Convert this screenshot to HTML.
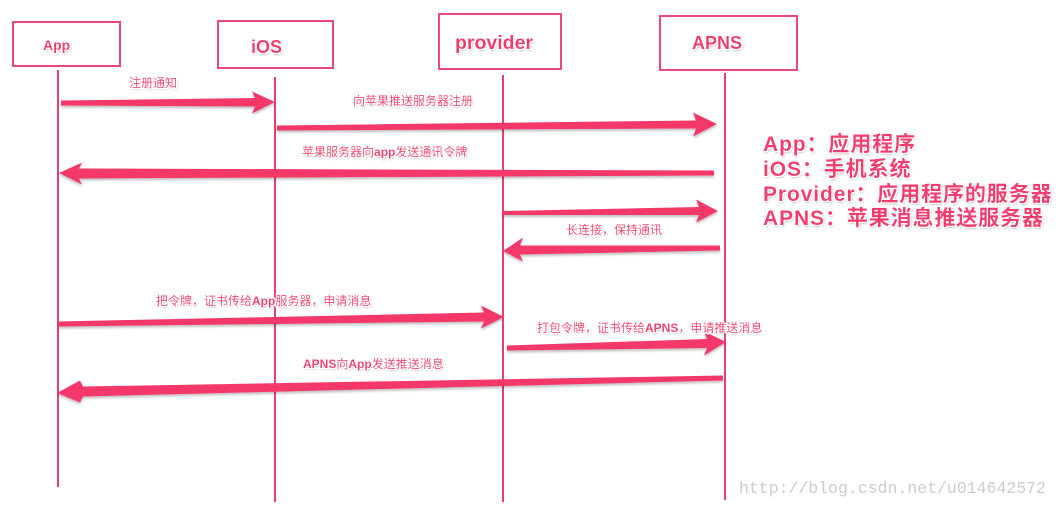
<!DOCTYPE html>
<html>
<head>
<meta charset="utf-8">
<style>
  html,body{margin:0;padding:0;background:#fff;}
  body{width:1060px;height:507px;overflow:hidden;}
  svg{display:block;}
  .lbl{font-family:"Liberation Sans","Noto Sans CJK SC",sans-serif;font-size:12px;fill:#ef3a6c;}
  .b{font-weight:bold;}
  .box{fill:#fff;stroke:#e8487b;stroke-width:2;}
  .life{stroke:#e63f74;stroke-width:2;}
  .arr{fill:#f5386b;}
  .head{font-family:"Liberation Sans",sans-serif;font-weight:bold;fill:#ef3a6c;}
  .leg{font-family:"Liberation Sans","Noto Sans CJK SC",sans-serif;font-weight:bold;font-size:21px;letter-spacing:0.9px;fill:#f23c6e;}
</style>
</head>
<body>
<svg width="1060" height="507" viewBox="0 0 1060 507" xmlns="http://www.w3.org/2000/svg">
  <defs>
    <filter id="ts" x="-10%" y="-40%" width="120%" height="180%">
      <feMorphology in="SourceAlpha" operator="dilate" radius="1" result="d"/>
      <feFlood flood-color="#ffffff"/>
      <feComposite in2="d" operator="in" result="w"/>
      <feGaussianBlur in="SourceAlpha" stdDeviation="1" result="bl"/>
      <feOffset in="bl" dx="1" dy="1.5" result="o"/>
      <feComponentTransfer in="o" result="sh"><feFuncA type="linear" slope="0.35"/></feComponentTransfer>
      <feMerge><feMergeNode in="sh"/><feMergeNode in="w"/><feMergeNode in="SourceGraphic"/></feMerge>
    </filter>
    <filter id="as" x="-5%" y="-50%" width="110%" height="200%">
      <feGaussianBlur in="SourceAlpha" stdDeviation="1.2" result="bl"/>
      <feOffset in="bl" dx="0" dy="2" result="o"/>
      <feComponentTransfer in="o" result="sh"><feFuncA type="linear" slope="0.25"/></feComponentTransfer>
      <feMerge><feMergeNode in="sh"/><feMergeNode in="SourceGraphic"/></feMerge>
    </filter>
  </defs>

  <!-- boxes -->
  <rect class="box" x="13" y="22" width="107" height="44"/>
  <rect class="box" x="218" y="21" width="115" height="47"/>
  <rect class="box" x="439" y="14" width="122" height="55"/>
  <rect class="box" x="660" y="16" width="137" height="54"/>

  <text class="head" x="43" y="50" font-size="14" filter="url(#ts)">App</text>
  <text class="head" x="251" y="53" font-size="18" filter="url(#ts)">iOS</text>
  <text class="head" x="455" y="49" font-size="19.5" filter="url(#ts)">provider</text>
  <text class="head" x="692" y="49" font-size="18" filter="url(#ts)">APNS</text>

  <!-- lifelines -->
  <line class="life" x1="58" y1="70" x2="58" y2="487"/>
  <line class="life" x1="275" y1="77" x2="275" y2="502"/>
  <line class="life" x1="503" y1="75" x2="503" y2="502"/>
  <line class="life" x1="725" y1="73" x2="725" y2="500"/>

  <!-- arrows -->
  <g filter="url(#as)">
    <polygon class="arr" points="61,100.5 255,98 252,91.5 275,102 252,113.5 255,106.5 61,105.5"/>
    <polygon class="arr" points="277,125.5 696,120.5 693,112.5 717,124 693,136.5 696,128.5 277,130.5"/>
    <polygon class="arr" points="714,170.5 79,168.5 82,162.5 59,173 82,184.5 79,178.5 714,175.5"/>
    <polygon class="arr" points="502,211 699,207 696,199.5 718,211 696,222.5 699,215 502,215"/>
    <polygon class="arr" points="720,245.5 520,245.5 523,237.5 503,251 523,261.5 520,254.5 720,250.5"/>
    <polygon class="arr" points="58,321.5 484,312.5 481,305.5 504,317 481,328.5 484,321.5 58,326.5"/>
    <polygon class="arr" points="507,345.5 707,339 704,331.5 726,342 704,355.5 707,348 507,350.5"/>
    <polygon class="arr" points="723,375.5 83,386.5 80,380.5 57,393 80,402.5 83,396.5 723,380.5"/>
  </g>

  <!-- arrow labels -->
  <g filter="url(#ts)">
    <text class="lbl" x="129" y="87">注册通知</text>
    <text class="lbl" x="353" y="105">向苹果推送服务器注册</text>
    <text class="lbl" x="302" y="156">苹果服务器向<tspan class="b">app</tspan>发送通讯令牌</text>
    <text class="lbl" x="566" y="234">长连接，保持通讯</text>
    <text class="lbl" x="156" y="305">把令牌，证书传给<tspan class="b">App</tspan>服务器，申请消息</text>
    <text class="lbl" x="537" y="332">打包令牌，证书传给<tspan class="b">APNS</tspan>，申请推送消息</text>
    <text class="lbl" x="303" y="368"><tspan class="b">APNS</tspan>向<tspan class="b">App</tspan>发送推送消息</text>
  </g>

  <!-- legend -->
  <g filter="url(#ts)">
    <text class="leg" x="763" y="151">App：应用程序</text>
    <text class="leg" x="763" y="176">iOS：手机系统</text>
    <text class="leg" x="763" y="201">Provider：应用程序的服务器</text>
    <text class="leg" x="763" y="225">APNS：苹果消息推送服务器</text>
  </g>

  <!-- watermark -->
  <text x="739" y="493" font-family="Liberation Mono, monospace" font-size="16.5" fill="#cfcbc8">http://blog.csdn.net/u014642572</text>
</svg>
</body>
</html>
